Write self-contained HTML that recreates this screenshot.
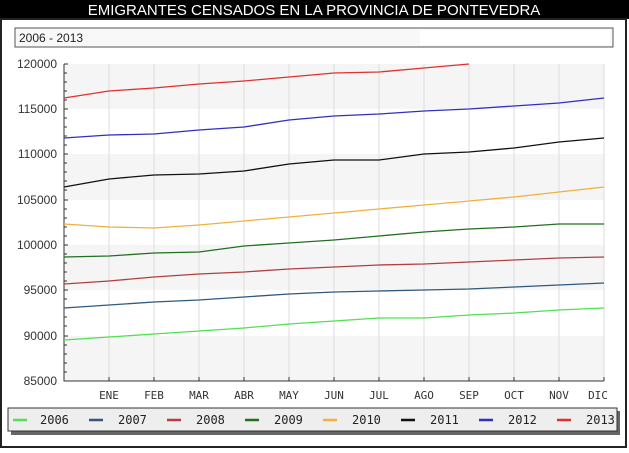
<!DOCTYPE html><html><head><style>body{margin:0;width:629px;height:449px;background:#fff;overflow:hidden;font-family:"DejaVu Sans Mono","Liberation Mono",monospace}</style></head><body>
<svg width="629" height="449" xmlns="http://www.w3.org/2000/svg" font-family="Liberation Sans, sans-serif">
<rect x="0" y="0" width="629" height="449" fill="#fff"/>
<rect x="0" y="0" width="629" height="19" fill="#000"/>
<text x="314" y="15" fill="#fff" font-size="15" text-anchor="middle">EMIGRANTES CENSADOS EN LA PROVINCIA DE PONTEVEDRA</text>
<rect x="1" y="19" width="625" height="428" fill="none" stroke="#222" stroke-width="2"/>
<rect x="15" y="28" width="598" height="19" fill="#f8f8f8" stroke="#555" stroke-width="1"/>
<rect x="420" y="30" width="190" height="15" fill="#fff"/>
<text x="19" y="42" font-size="12" fill="#222">2006 - 2013</text>
<g fill="#f5f5f5"><rect x="64" y="64" width="540" height="45"/><rect x="64" y="154" width="540" height="46"/><rect x="64" y="245" width="540" height="45"/><rect x="64" y="336" width="540" height="45"/></g>
<g stroke="#ddd" stroke-width="1">
<path d="M109 64V381M154 64V381M199 64V381M244 64V381M289 64V381M334 64V381M379 64V381M424 64V381M469 64V381M514 64V381M559 64V381M604 64V381"/></g>
<g stroke="#333" stroke-width="1" fill="none"><path d="M64 64V381H604"/>
<path d="M64 64h4M64 73h3M64 82h3M64 91h3M64 100h3M64 109h4M64 154h4M64 200h4M64 245h4M64 290h4M64 336h4M64 381h4M64 118h3M64 127h3M64 136h3M64 145h3M64 163h3M64 172h3M64 181h3M64 190h3M64 209h3M64 218h3M64 227h3M64 236h3M64 254h3M64 263h3M64 272h3M64 281h3M64 299h3M64 308h3M64 317h3M64 326h3M64 345h3M64 354h3M64 363h3M64 372h3"/>
<path d="M109 381v-4M154 381v-4M199 381v-4M244 381v-4M289 381v-4M334 381v-4M379 381v-4M424 381v-4M469 381v-4M514 381v-4M559 381v-4M604 381v-4"/></g>
<g font-size="12" fill="#333" text-anchor="end"><text x="57" y="68">120000</text><text x="57" y="113">115000</text><text x="57" y="158">110000</text><text x="57" y="204">105000</text><text x="57" y="249">100000</text><text x="57" y="294">95000</text><text x="57" y="340">90000</text><text x="57" y="385">85000</text></g>
<g font-size="11" fill="#333" text-anchor="middle" font-family="DejaVu Sans Mono, monospace"><text x="109" y="399">ENE</text><text x="154" y="399">FEB</text><text x="199" y="399">MAR</text><text x="244" y="399">ABR</text><text x="289" y="399">MAY</text><text x="334" y="399">JUN</text><text x="379" y="399">JUL</text><text x="424" y="399">AGO</text><text x="469" y="399">SEP</text><text x="514" y="399">OCT</text><text x="559" y="399">NOV</text><text x="598" y="399">DIC</text></g>
<g fill="none" stroke-width="1.3">
<polyline stroke="#e03030" points="64,98 109,91 154,88 199,84 244,81 289,77 334,73 379,72 424,68 469,64"/>
<polyline stroke="#3030c0" points="64,138 109,135 154,134 199,130 244,127 289,120 334,116 379,114 424,111 469,109 514,106 559,103 604,98"/>
<polyline stroke="#111" points="64,187 109,179 154,175 199,174 244,171 289,164 334,160 379,160 424,154 469,152 514,148 559,142 604,138"/>
<polyline stroke="#f0b040" points="64,224 109,227 154,228 199,225 244,221 289,217 334,213 379,209 424,205 469,201 514,197 559,192 604,187"/>
<polyline stroke="#207020" points="64,257 109,256 154,253 199,252 244,246 289,243 334,240 379,236 424,232 469,229 514,227 559,224 604,224"/>
<polyline stroke="#b04040" points="64,284 109,281 154,277 199,274 244,272 289,269 334,267 379,265 424,264 469,262 514,260 559,258 604,257"/>
<polyline stroke="#305880" points="64,308 109,305 154,302 199,300 244,297 289,294 334,292 379,291 424,290 469,289 514,287 559,285 604,283"/>
<polyline stroke="#50e050" points="64,340 109,337 154,334 199,331 244,328 289,324 334,321 379,318 424,318 469,315 514,313 559,310 604,308"/>
</g>
<rect x="11" y="411" width="609" height="24" fill="#666"/>
<rect x="8" y="408" width="609" height="23" fill="#eee" stroke="#333"/>
<g stroke-width="2.5"><path d="M13 420h14" stroke="#50e050"/><path d="M89 420h14" stroke="#305880"/><path d="M167 420h14" stroke="#b04040"/><path d="M245 420h14" stroke="#207020"/><path d="M323 420h14" stroke="#f0b040"/><path d="M401 420h14" stroke="#111"/><path d="M479 420h14" stroke="#3030c0"/><path d="M557 420h14" stroke="#e03030"/></g>
<g font-size="12" fill="#222" font-family="DejaVu Sans Mono, monospace"><text x="40" y="424">2006</text><text x="118" y="424">2007</text><text x="196" y="424">2008</text><text x="274" y="424">2009</text><text x="352" y="424">2010</text><text x="430" y="424">2011</text><text x="508" y="424">2012</text><text x="586" y="424">2013</text></g>
</svg></body></html>
